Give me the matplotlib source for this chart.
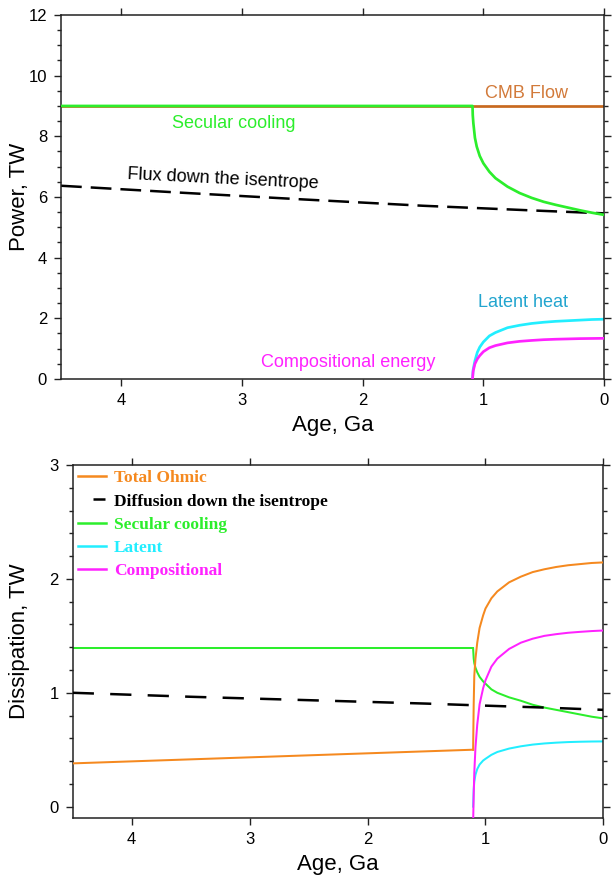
import matplotlib
matplotlib.use("Agg")
import matplotlib.pyplot as plt
from matplotlib.lines import Line2D
from matplotlib.ticker import MultipleLocator

# fonts: helvetica-like for axes, times-like bold for the lower legend
plt.rcParams["font.family"] = ["Liberation Sans", "DejaVu Sans"]

# ---------------- data ----------------
# upper panel: power (TW) against age (Ga)
cmb_age = [4.5, 0.0]
cmb_flow = [9.0, 9.0]

isen_age = [4.5, 3.5, 2.5, 1.5, 0.5, 0.0]
isen_flux = [6.37, 6.14, 5.92, 5.71, 5.54, 5.46]

sec_age = [4.5, 1.09, 1.088, 1.083, 1.07, 1.055, 1.03, 1.0, 0.95, 0.9, 0.8,
           0.7, 0.6, 0.5, 0.4, 0.3, 0.2, 0.1, 0.0]
sec_power = [9.0, 9.0, 8.7, 8.43, 7.95, 7.66, 7.35, 7.11, 6.83, 6.62, 6.34,
             6.13, 5.97, 5.84, 5.74, 5.65, 5.56, 5.48, 5.41]

ic_age = [1.09, 1.085, 1.07, 1.05, 1.03, 1.0, 0.95, 0.9, 0.8, 0.7, 0.6,
          0.5, 0.4, 0.3, 0.2, 0.1, 0.0]
latent_power = [0.0, 0.3, 0.6, 0.88, 1.05, 1.22, 1.42, 1.53, 1.69, 1.77, 1.83,
                1.87, 1.9, 1.92, 1.94, 1.96, 1.97]
comp_power = [0.0, 0.25, 0.5, 0.66, 0.77, 0.9, 1.03, 1.1, 1.19, 1.24, 1.27,
              1.295, 1.31, 1.32, 1.33, 1.335, 1.34]

# lower panel: dissipation (TW) against age (Ga)
diff_age = [4.5, 3.5, 2.5, 1.5, 1.0, 0.5, 0.0]
diff_diss = [1.0, 0.965, 0.935, 0.905, 0.887, 0.87, 0.85]

ic_age2 = [1.105, 1.1, 1.095, 1.085, 1.07, 1.05, 1.02, 1.0, 0.95, 0.9, 0.8,
           0.7, 0.6, 0.5, 0.4, 0.3, 0.2, 0.1, 0.0]
ohm_pre_age = [4.5, 1.105]
ohm_pre = [0.38, 0.50]
ohm_post = [0.50, 0.9, 1.15, 1.3, 1.44, 1.57, 1.68, 1.74, 1.83, 1.89, 1.97,
            2.02, 2.06, 2.085, 2.105, 2.12, 2.13, 2.14, 2.145]
sec_pre_age = [4.5, 1.105]
sec_pre = [1.39, 1.39]
sec_post = [1.39, 1.3, 1.26, 1.22, 1.18, 1.14, 1.1, 1.08, 1.03, 1.0, 0.96,
            0.93, 0.895, 0.87, 0.85, 0.83, 0.81, 0.79, 0.775]
lat_post = [0.0, 0.15, 0.22, 0.28, 0.33, 0.37, 0.405, 0.42, 0.455, 0.48, 0.51,
            0.53, 0.545, 0.555, 0.562, 0.567, 0.57, 0.572, 0.573]
comp_post = [-0.15, 0.1, 0.3, 0.52, 0.72, 0.9, 1.04, 1.11, 1.23, 1.3, 1.385,
             1.44, 1.475, 1.5, 1.515, 1.527, 1.535, 1.542, 1.547]

legend_labels = ["Total Ohmic", "Diffusion down the isentrope", "Secular cooling",
                 "Latent", "Compositional"]

# colours
GREEN = "#2CEE2C"
CYAN = "#22EEFF"
MAGENTA = "#FF22FF"
BROWN = "#C8691E"
ORANGE = "#F5891F"
SPINE = "#222222"


def style_axes(ax, ymajor, yminor):
    # ticks outward on all four sides, labels only bottom/left
    ax.tick_params(which="both", direction="out", top=True, right=True,
                   labeltop=False, labelright=False, width=1.0, color=SPINE)
    ax.tick_params(which="major", length=5, pad=5, labelsize=12)
    ax.tick_params(which="minor", length=3)
    ax.xaxis.set_major_locator(MultipleLocator(1))
    ax.yaxis.set_major_locator(MultipleLocator(ymajor))
    ax.yaxis.set_minor_locator(MultipleLocator(yminor))
    for s in ax.spines.values():
        s.set_linewidth(1.1)
        s.set_color(SPINE)


fig = plt.figure(figsize=(6.15, 8.75), dpi=100)

# ---------------- upper panel ----------------
ax1 = fig.add_axes([0.0992, 0.5669, 0.883, 0.416])
lw1 = 1.95
ax1.plot(cmb_age, cmb_flow, color=BROWN, lw=lw1, zorder=2)
ax1.plot(sec_age, sec_power, color=GREEN, lw=lw1, zorder=3)
ax1.plot(isen_age, isen_flux, color="black", lw=1.8, dashes=(8.3, 3.6), zorder=2)
ax1.plot(ic_age, latent_power, color=CYAN, lw=lw1, zorder=2)
ax1.plot(ic_age, comp_power, color=MAGENTA, lw=lw1, zorder=3)

ax1.text(0.64, 9.42, "CMB Flow", color="#D27A3A", fontsize=13, ha="center", va="center")
ax1.text(3.07, 8.43, "Secular cooling", color=GREEN, fontsize=13, ha="center", va="center")
ax1.text(3.16, 6.6, "Flux down the isentrope", color="black", fontsize=13,
         ha="center", va="center", rotation=-2.8)
ax1.text(0.67, 2.53, "Latent heat", color="#22A5CF", fontsize=13, ha="center", va="center")
ax1.text(2.12, 0.54, "Compositional energy", color=MAGENTA, fontsize=13,
         ha="center", va="center")

ax1.set_xlim(4.5, 0)
ax1.set_ylim(0, 12)
style_axes(ax1, 2, 0.5)
ax1.set_xlabel("Age, Ga", fontsize=16, labelpad=5)
ax1.set_ylabel("Power, TW", fontsize=16)
ax1.yaxis.set_label_coords(-0.057, 0.5)

# ---------------- lower panel ----------------
ax2 = fig.add_axes([0.1182, 0.0655, 0.863, 0.403])
lw2 = 1.45
ax2.plot(sec_pre_age, sec_pre, color=GREEN, lw=lw2, zorder=2)
ax2.plot(ic_age2, sec_post, color=GREEN, lw=lw2, zorder=2)
ax2.plot(ic_age2, lat_post, color=CYAN, lw=lw2, zorder=2)
ax2.plot(ic_age2, comp_post, color=MAGENTA, lw=lw2, zorder=3)
ax2.plot(ohm_pre_age, ohm_pre, color=ORANGE, lw=lw2, zorder=4)
ax2.plot(ic_age2, ohm_post, color=ORANGE, lw=lw2, zorder=4)
ax2.plot(diff_age, diff_diss, color="black", lw=1.8, dashes=(8.5, 6.5), zorder=5)

ax2.set_xlim(4.5, 0)
ax2.set_ylim(-0.097, 3.0)
style_axes(ax2, 1, 0.2)
ax2.set_xlabel("Age, Ga", fontsize=16, labelpad=5)
ax2.set_ylabel("Dissipation, TW", fontsize=16)
ax2.yaxis.set_label_coords(-0.080, 0.5)

# legend with coloured text, the dashed entry shows a single dash
leg_colors = [ORANGE, "black", GREEN, CYAN, MAGENTA]
handles = [
    Line2D([], [], color=ORANGE, lw=1.8),
    Line2D([], [], color="black", lw=1.8, linestyle=(4.8, (4.8, 6.0))),
    Line2D([], [], color=GREEN, lw=1.8),
    Line2D([], [], color=CYAN, lw=1.8),
    Line2D([], [], color=MAGENTA, lw=1.8),
]
leg = ax2.legend(handles, legend_labels, loc="upper left", bbox_to_anchor=(0, 1),
                 borderaxespad=0, borderpad=0.3, frameon=False,
                 handlelength=1.6, handletextpad=0.48, labelspacing=0.4,
                 prop={"family": ["Liberation Serif", "DejaVu Serif"],
                       "weight": "bold", "size": 12.5})
for txt, c in zip(leg.get_texts(), leg_colors):
    txt.set_color(c)

fig.savefig("out.png", dpi=100)
